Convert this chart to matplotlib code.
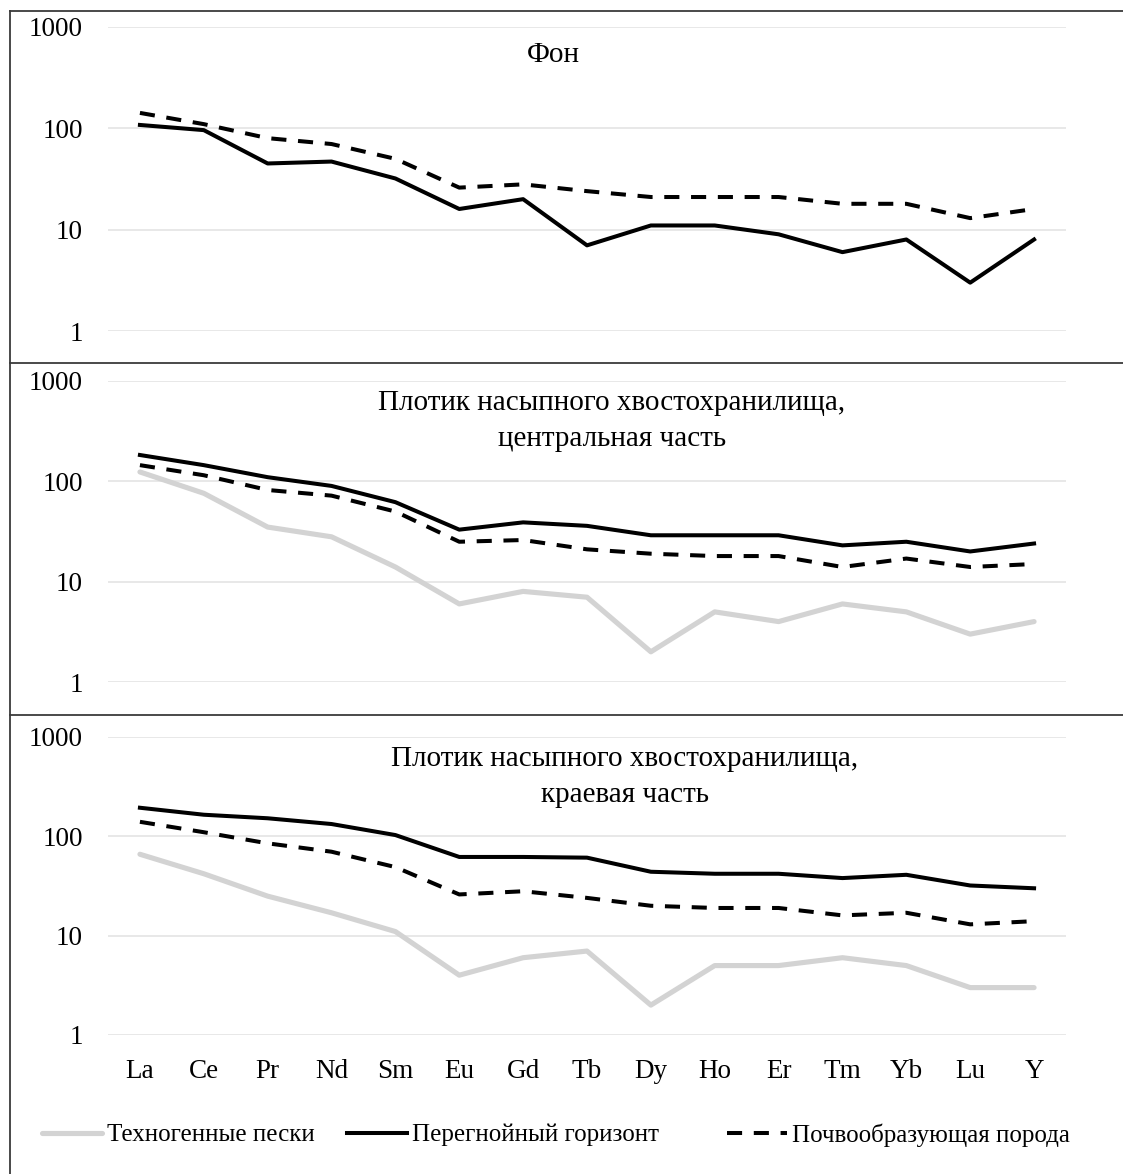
import numpy as np
import matplotlib
matplotlib.use("Agg")
import matplotlib.pyplot as plt
from matplotlib.lines import Line2D

plt.rcParams['font.family'] = ['Liberation Serif', 'DejaVu Serif']

elements = ['La', 'Ce', 'Pr', 'Nd', 'Sm', 'Eu', 'Gd', 'Tb', 'Dy', 'Ho', 'Er', 'Tm', 'Yb', 'Lu', 'Y']

# Фон
bg_humus = [108, 96, 45, 47, 32, 16, 20, 7, 11, 11, 9, 6, 8, 3, 8]
bg_parent = [142, 110, 80, 70, 50, 26, 28, 24, 21, 21, 21, 18, 18, 13, 16]

# центральная часть
c_sand = [124, 76, 35, 28, 14, 6, 8, 7, 2, 5, 4, 6, 5, 3, 4]
c_humus = [183, 145, 110, 90, 62, 33, 39, 36, 29, 29, 29, 23, 25, 20, 24]
c_parent = [145, 115, 82, 72, 50, 25, 26, 21, 19, 18, 18, 14, 17, 14, 15]

# краевая часть
e_sand = [66, 42, 25, 17, 11, 4, 6, 7, 2, 5, 5, 6, 5, 3, 3]
e_humus = [194, 165, 152, 133, 103, 62, 62, 61, 44, 42, 42, 38, 41, 32, 30]
e_parent = [140, 110, 85, 70, 49, 26, 28, 24, 20, 19, 19, 16, 17, 13, 14]

titles = ['Фон',
          'Плотик насыпного хвостохранилища,\nцентральная часть',
          'Плотик насыпного хвостохранилища,\nкраевая часть']
legend_labels = ['Техногенные пески', 'Перегнойный горизонт', 'Почвообразующая порода']

W, H = 1123, 1174
fig = plt.figure(figsize=(W / 100, H / 100), dpi=100)

GREY = '#d3d3d3'
sand_kw = dict(color=GREY, lw=3.7, solid_capstyle='round', solid_joinstyle='round')
humus_kw = dict(color='black', lw=2.9, solid_joinstyle='round')
parent_kw = dict(color='black', lw=2.9, linestyle=(0, (3.75, 2.9)))

# axes boxes in pixels: (top of 1000, bottom at 1)
boxes = [(27, 331), (381, 682), (737, 1035)]
x0, x1 = 108, 1066
panels = [(None, bg_humus, bg_parent), (c_sand, c_humus, c_parent), (e_sand, e_humus, e_parent)]
title_pos = [(553, 55), (612, 421), (625, 777)]

x = np.arange(len(elements))
for i, ((top, bot), (sand, humus, parent)) in enumerate(zip(boxes, panels)):
    ax = fig.add_axes([x0 / W, 1 - bot / H, (x1 - x0) / W, (bot - top) / H])
    ax.set_yscale('log')
    ax.set_ylim(1, 1000)
    ax.set_xlim(-0.5, len(elements) - 0.5)
    if sand is not None:
        ax.plot(x, sand, **sand_kw)
    ax.plot(x, humus, **humus_kw)
    ax.plot(x, parent, **parent_kw)
    ax.set_yticks([1, 10, 100, 1000])
    ax.set_yticklabels(['1', '10', '100', '1000'])
    ax.minorticks_off()
    ax.yaxis.grid(True, color='#e6e6e6', lw=1.3)
    ax.set_axisbelow(True)
    for s in ax.spines.values():
        s.set_visible(False)
    ax.tick_params(axis='y', length=0, pad=18, labelsize=19.5)
    ax.set_xticks(x)
    if i == 2:
        ax.set_xticklabels(elements)
        ax.tick_params(axis='x', length=0, pad=17, labelsize=19.5)
    else:
        ax.set_xticklabels([])
        ax.tick_params(axis='x', length=0)
    tx, ty = title_pos[i]
    fig.text(tx / W, 1 - ty / H, titles[i], ha='center', va='center',
             fontsize=21, linespacing=1.45, multialignment='center')

# panel frames
frame_kw = dict(color='#3a3a3a', lw=1.3, transform=fig.transFigure)
fig.add_artist(Line2D([9.5 / W, 9.5 / W], [0, 1 - 11 / H], **frame_kw))
for yy in [11, 363, 715]:
    fig.add_artist(Line2D([9.5 / W, 1], [1 - yy / H, 1 - yy / H], **frame_kw))

# legend entries, one per series, placed along the bottom row
handles = [Line2D([], [], **sand_kw), Line2D([], [], **humus_kw), Line2D([], [], **parent_kw)]
legend_x = [42, 347, 727]
for h, lab, lx in zip(handles, legend_labels, legend_x):
    fig.legend([h], [lab], loc='center left', bbox_to_anchor=(lx / W, 1 - 1135 / H),
               frameon=False, fontsize=18, handlelength=2.4, handletextpad=0.2,
               borderpad=0, borderaxespad=0)

fig.savefig('out.png', dpi=100, facecolor='white')
